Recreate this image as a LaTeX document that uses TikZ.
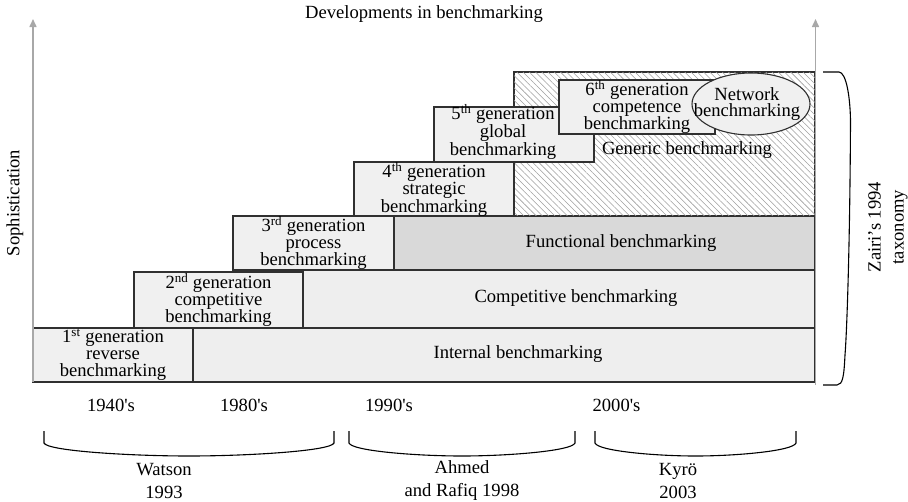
\documentclass[tikz,border=0pt]{standalone}
\usepackage{fontspec}
\setmainfont{Liberation Serif}
\usetikzlibrary{patterns.meta,arrows.meta,shapes.geometric}
\definecolor{boxfill}{HTML}{F0F0F0}
\definecolor{bandfill}{HTML}{EEEEEE}
\definecolor{funcfill}{HTML}{D9D9D9}
\definecolor{edge}{HTML}{303030}
\definecolor{axis}{HTML}{A8A8A8}
\tikzset{
  gen/.style={draw=edge, line width=1.1pt, fill=boxfill, rectangle, inner sep=0pt},
  gentxt/.style={inner sep=0pt, align=center, font=\fontsize{18.6}{16.8}\selectfont},
  band/.style={draw=edge, line width=1.1pt, rectangle, inner sep=0pt},
  lbl/.style={inner sep=0pt, align=center, font=\fontsize{18.6}{16}\selectfont},
  cite/.style={inner sep=0pt, align=center, font=\fontsize{18.6}{23}\selectfont},
  axisarrow/.style={draw=axis, line width=1.5pt, -{Triangle[length=8pt,width=7pt]}},
  bracket/.style={draw=black, line width=1.1pt}
}
\begin{document}
\begin{tikzpicture}[x=1pt, y=-1pt]
\useasboundingbox (0,0) rectangle (908,501);

% taxonomy bands
\node[band, fill=bandfill, minimum width=622pt, minimum height=54pt] (internal) at (504,355) {};
\node[band, fill=bandfill, minimum width=513pt, minimum height=58pt] (competitive) at (558.5,299) {};
\node[band, fill=funcfill, minimum width=421pt, minimum height=54pt] (functional) at (604.5,243) {};
\node[band, fill=white, minimum width=301pt, minimum height=144pt] (genericbg) at (664.5,144) {};
\fill[pattern={Lines[angle=-45,distance=4.4pt,line width=0.55pt]}, pattern color=gray!75]
  (genericbg.north west) rectangle (genericbg.south east);
\draw[draw=edge, line width=1.1pt] (genericbg.north west) rectangle (genericbg.south east);

\node[lbl] (internaltxt) at (518,354) {Internal benchmarking};
\node[lbl] (competitivetxt) at (576,298) {Competitive benchmarking};
\node[lbl] (functionaltxt) at (621,243) {Functional benchmarking};

% generations: frame first, wording on top
\node[gen, minimum width=160pt, minimum height=54pt] (g1) at (113,355) {};
\node[gentxt] (g1txt) at (113,355) {1\textsuperscript{st} generation\\reverse\\benchmarking};
\node[gen, minimum width=169pt, minimum height=56pt] (g2) at (218.5,300) {};
\node[gentxt] (g2txt) at (218.5,300) {2\textsuperscript{nd} generation\\competitive\\benchmarking};
\node[gen, minimum width=161pt, minimum height=54pt] (g3) at (313.5,243) {};
\node[gentxt] (g3txt) at (313.5,243) {3\textsuperscript{rd} generation\\process\\benchmarking};
\node[gen, minimum width=160pt, minimum height=54pt] (g4) at (434,189) {};
\node[gentxt] (g4txt) at (434,189) {4\textsuperscript{th} generation\\strategic\\benchmarking};
\node[gen, minimum width=160pt, minimum height=55pt] (g5) at (514,134.5) {};
\node[gentxt] (g5txt) at (503,132) {5\textsuperscript{th} generation\\global\\benchmarking};
\node[lbl] (generictxt) at (687,150) {Generic benchmarking};
\node[gen, minimum width=156pt, minimum height=54pt] (g6) at (637,107) {};
\node[gentxt] (g6txt) at (637,107) {6\textsuperscript{th} generation\\competence\\benchmarking};
\node[gen, ellipse, minimum width=118pt, minimum height=62pt] (network) at (751,104) {};
\node[gentxt] (networktxt) at (747,104) {Network\\benchmarking};

% axes
\coordinate (leftfoot) at (33,382);
\coordinate (lefttip) at (33,19);
\coordinate (rightfoot) at (815.5,385);
\coordinate (righttip) at (815.5,19);
\draw[axisarrow] (leftfoot) -- (lefttip);
\draw[axisarrow] (rightfoot) -- (righttip);

\node[lbl] (title) at (424,14) {Developments in benchmarking};
\node[lbl, rotate=90] (soph) at (15,203) {Sophistication};

% Zairi bracket
\coordinate (ztop) at (823,72);
\coordinate (zbot) at (823,385);
\draw[bracket] (ztop) -- (839,72) .. controls (846,72.5) and (850,95) .. (850.5,120)
  .. controls (850,240) and (847,330) .. (845,355)
  .. controls (844,375) and (843,385) .. (837,385) -- (zbot);
\node[cite, rotate=90] (zairi) at (888,227) {Zairi’s 1994\\taxonomy};

% decades
\node[lbl] (d1940) at (111,405) {1940\textquotesingle s};
\node[lbl] (d1980) at (244,405) {1980\textquotesingle s};
\node[lbl] (d1990) at (389,405) {1990\textquotesingle s};
\node[lbl] (d2000) at (616.5,405) {2000\textquotesingle s};

% period brackets
\newcommand{\periodbracket}[2]{%
  \draw[bracket] (#1,431) -- (#1,443)
    .. controls (#1+3,451) and ({#1+0.3*(#2-#1)},456) .. ({0.5*(#1+#2)},456)
    .. controls ({#2-0.3*(#2-#1)},456) and (#2-3,451) .. (#2,443) -- (#2,431);}
\periodbracket{44}{334}
\periodbracket{349}{575}
\periodbracket{595}{796}

\node[cite] (watson) at (164,481) {Watson\\1993};
\node[cite] (ahmed) at (462,481) {Ahmed\\and Rafiq 1998};
\node[cite] (kyro) at (678,481) {Kyrö\\2003};
\end{tikzpicture}
\end{document}
